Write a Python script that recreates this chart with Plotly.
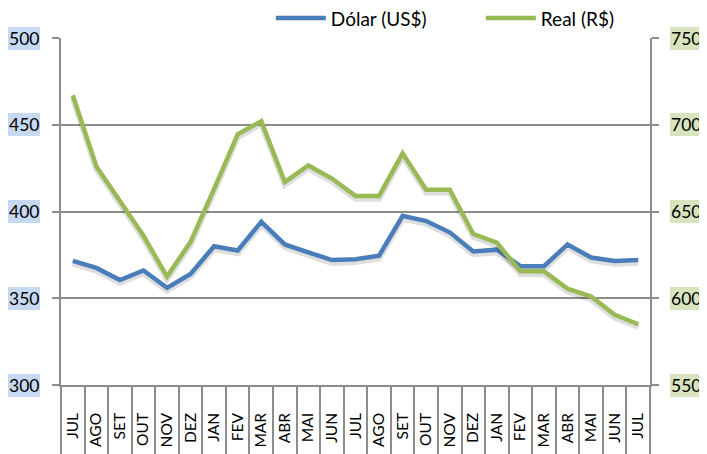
import plotly.graph_objects as go

months = ["JUL", "AGO", "SET", "OUT", "NOV", "DEZ", "JAN", "FEV", "MAR", "ABR", "MAI", "JUN",
          "JUL", "AGO", "SET", "OUT", "NOV", "DEZ", "JAN", "FEV", "MAR", "ABR", "MAI", "JUN", "JUL"]
dolar = [371.5, 367.5, 360.5, 366, 356, 364, 380, 377.5, 394, 381, 376.5, 372,
         372.5, 374.5, 397.5, 394.5, 388, 377, 378, 368.5, 368.5, 381, 373.5, 371.5, 372]
real = [717, 676, 656, 636, 612.5, 632.5, 663, 694.5, 702, 667, 676.5, 669,
        659, 659, 683.5, 662.5, 662.5, 637, 632, 615.5, 615.5, 605.5, 601, 590.5, 585]
left_ticks = [300, 350, 400, 450, 500]
right_ticks = [550, 600, 650, 700, 750]

keys = [f"{m}_{i}" for i, m in enumerate(months)]

BLUE = "#4A7EBB"
GREEN = "#98B954"
GRID = "#8C8C8C"
FONT = "Lato"
SHADOW = "rgba(0,0,0,0.13)"
shadow_shift = 1.6  # value units (~3 px) of the soft drop shadow

fig = go.Figure()
fig.add_trace(go.Scatter(x=keys, y=[v - shadow_shift for v in dolar], mode="lines",
                         line=dict(color=SHADOW, width=6), yaxis="y", showlegend=False,
                         hoverinfo="skip"))
fig.add_trace(go.Scatter(x=keys, y=[v - shadow_shift for v in real], mode="lines",
                         line=dict(color=SHADOW, width=6), yaxis="y2", showlegend=False,
                         hoverinfo="skip"))
fig.add_trace(go.Scatter(x=keys, y=dolar, name="Dólar (US$)", mode="lines",
                         line=dict(color=BLUE, width=4.5), yaxis="y"))
fig.add_trace(go.Scatter(x=keys, y=real, name="Real (R$)", mode="lines",
                         line=dict(color=GREEN, width=4.5), yaxis="y2"))

annotations = []
for v in left_ticks:
    annotations.append(dict(x=0, xref="paper", y=v, yref="y", text=str(v), showarrow=False,
                            xanchor="right", yanchor="middle", xshift=-21,
                            bgcolor="#C6D9F1", font=dict(family=FONT, size=17.5, color="#000"),
                            borderpad=1, borderwidth=0))
for v in right_ticks:
    annotations.append(dict(x=1, xref="paper", y=v, yref="y2", text=str(v), showarrow=False,
                            xanchor="left", yanchor="middle", xshift=20,
                            bgcolor="#D7E4BD", font=dict(family=FONT, size=17.5, color="#000"),
                            borderpad=1, borderwidth=0))

fig.update_layout(
    width=699, height=446,
    margin=dict(l=53, r=57, t=30, b=69, autoexpand=False),
    paper_bgcolor="white", plot_bgcolor="white",
    font=dict(family=FONT, color="#000"),
    showlegend=True,
    legend=dict(orientation="h", xref="container", yref="container",
                x=0.376, xanchor="left", y=0.977, yanchor="middle",
                font=dict(family=FONT, size=19), bgcolor="rgba(0,0,0,0)",
                itemwidth=50, entrywidth=145, entrywidthmode="pixels",
                traceorder="normal"),
    xaxis=dict(type="category", tickmode="array", tickvals=keys, ticktext=months,
               range=[-0.5, len(keys) - 0.5],
               tickangle=-90, tickson="boundaries", ticks="outside", ticklen=70,
               tickcolor=GRID, tickwidth=1.5, showgrid=False, showline=True,
               linecolor=GRID, linewidth=1.5, ticklabelstandoff=20, automargin=False,
               tickfont=dict(family=FONT, size=15.5, color="#000"), fixedrange=True),
    yaxis=dict(range=[300, 500], tickvals=left_ticks, showticklabels=False, automargin=False,
               showgrid=True, gridcolor=GRID, gridwidth=1.5, ticks="outside", ticklen=7,
               tickcolor=GRID, tickwidth=1.5, showline=True, linecolor=GRID, linewidth=1.5,
               zeroline=False),
    yaxis2=dict(range=[550, 750], tickvals=right_ticks, showticklabels=False, automargin=False,
                overlaying="y", side="right", showgrid=False, ticks="outside", ticklen=7,
                tickcolor=GRID, tickwidth=1.5, showline=True, linecolor=GRID, linewidth=1.5,
                zeroline=False),
    annotations=annotations,
)

fig.write_html("out.html")
